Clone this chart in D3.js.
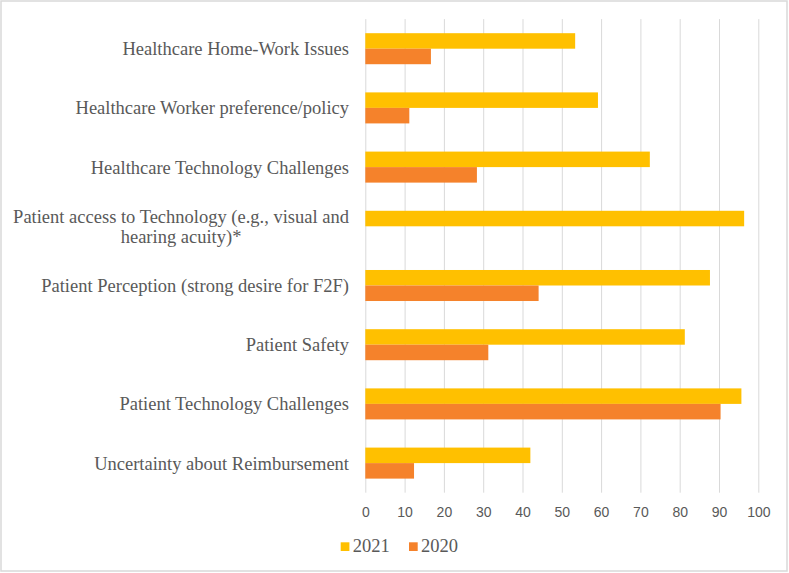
<!DOCTYPE html>
<html><head><meta charset="utf-8">
<script src="https://cdn.jsdelivr.net/npm/d3@7"></script>
<style>body{margin:0;background:#fff}svg{display:block}</style>
</head><body>
<script>
const categories = [
  "Healthcare Home-Work Issues",
  "Healthcare Worker preference/policy",
  "Healthcare Technology Challenges",
  "Patient access to Technology (e.g., visual and|hearing acuity)*",
  "Patient Perception (strong desire for F2F)",
  "Patient Safety",
  "Patient Technology Challenges",
  "Uncertainty about Reimbursement"
];
const values2021 = [53.4, 59.2, 72.4, 96.4, 87.7, 81.3, 95.7, 42.0];
const values2020 = [16.7, 11.2, 28.4, 0, 44.1, 31.3, 90.4, 12.4];
const seriesNames = ["2021", "2020"];
const tickValues = [0,10,20,30,40,50,60,70,80,90,100];
const colors = {"2021": "#FFC000", "2020": "#F5822B"};

const W = 789, H = 573;
const svg = d3.select("body").append("svg").attr("width", W).attr("height", H);
svg.append("rect").attr("x",1).attr("y",1).attr("width",W-3).attr("height",H-3)
  .attr("fill","#fff").attr("stroke","#d9d9d9").attr("stroke-width",1.5);

const plot = {left: 365.3, right: 758.3, top: 19.1, bottom: 492.7};
const x = d3.scaleLinear().domain([0,100]).range([plot.left, plot.right]);
const gap = 0.476;
const y = d3.scaleBand().domain(categories).range([plot.top, plot.bottom])
  .paddingInner(gap).paddingOuter(gap/2);
const y1 = d3.scaleBand().domain(seriesNames).range([0, y.bandwidth()]);

// gridlines
const gx = d3.axisBottom(x).tickValues(tickValues).tickSize(-(plot.bottom-plot.top)).tickFormat("");
svg.append("g").attr("transform",`translate(0,${plot.bottom})`).call(gx)
  .call(g=>g.select(".domain").remove())
  .call(g=>g.selectAll("line").attr("stroke","#d9d9d9").attr("stroke-width",1));

// tick labels
const ax = d3.axisBottom(x).tickValues(tickValues).tickSize(0).tickPadding(0).tickFormat(d3.format("d"));
svg.append("g").attr("transform",`translate(0,${plot.bottom})`).call(ax)
  .call(g=>g.select(".domain").remove())
  .call(g=>g.selectAll("text").attr("y",19).attr("dy","0.35em").attr("fill","#595959")
     .attr("font-family","'Liberation Sans', Arial, sans-serif").attr("font-size","14px"));

const data = categories.map((c,i)=>({cat:c, vals:[{s:"2021",v:values2021[i]},{s:"2020",v:values2020[i]}]}));
const groups = svg.append("g").selectAll("g").data(data).join("g")
  .attr("transform", d=>`translate(0,${y(d.cat)})`);
groups.selectAll("rect").data(d=>d.vals.filter(e=>e.v>0)).join("rect")
  .attr("x", x(0)).attr("y", d=>y1(d.s)).attr("height", y1.bandwidth())
  .attr("width", d=>x(d.v)-x(0)).attr("fill", d=>colors[d.s]);

// category labels
const labelX = 349, fs = 18.5, lh = 20;
categories.forEach(c=>{
  const lines = c.split("|");
  const cy = y(c) + y.bandwidth()/2;
  const t0 = cy - (lines.length-1)*lh/2;
  const first = svg.append("text").attr("x", labelX).attr("y", t0).attr("dy","0.35em")
    .attr("text-anchor","end").attr("fill","#595959")
    .attr("font-family","'Liberation Serif','Times New Roman',serif").attr("font-size",fs+"px")
    .text(lines[0]);
  if (lines.length>1){
    const w = first.node().getComputedTextLength();
    svg.append("text").attr("x", labelX - w/2).attr("y", t0+lh).attr("dy","0.35em")
      .attr("text-anchor","middle").attr("fill","#595959")
      .attr("font-family","'Liberation Serif','Times New Roman',serif").attr("font-size",fs+"px")
      .text(lines[1]);
  }
});

// legend
const leg = svg.append("g");
const legItems = [{s:"2021", sx:340.7}, {s:"2020", sx:409}];
legItems.forEach(d=>{
  leg.append("rect").attr("x", d.sx).attr("y", 542.3).attr("width", 8.7).attr("height", 8.7).attr("fill", colors[d.s]);
  leg.append("text").attr("x", d.sx+12).attr("y", 552.3).attr("fill","#595959")
    .attr("font-family","'Liberation Serif','Times New Roman',serif").attr("font-size","18.5px").text(d.s);
});
</script>
</body></html>
